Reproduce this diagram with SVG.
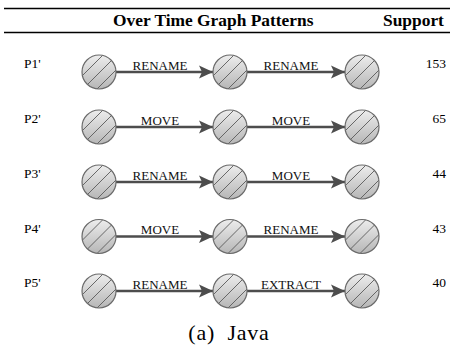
<svg xmlns="http://www.w3.org/2000/svg" xmlns:xlink="http://www.w3.org/1999/xlink" width="450" height="346" viewBox="0 0 450 346">
<style>
.hdr{font-family:"Liberation Serif","Times New Roman",serif;font-weight:bold;font-size:17.4px;fill:#000}
.lbl{font-family:"Liberation Serif","Times New Roman",serif;font-size:13.5px;fill:#000}
.num{font-family:"Liberation Serif","Times New Roman",serif;font-size:13.5px;fill:#000;text-anchor:end}
.elbl{font-family:"Liberation Serif","Times New Roman",serif;font-size:13px;fill:#111;text-anchor:middle}
.edge{stroke:#4d4d4d;stroke-width:2.5;fill:none}
.rule{stroke:#000;stroke-width:1.5}
.cap{font-family:"Liberation Serif","Times New Roman",serif;font-size:22px;fill:#000;text-anchor:middle;letter-spacing:0.8px;word-spacing:6px}
</style>
<defs>
<linearGradient id="g" x1="0" y1="0" x2="0" y2="1">
<stop offset="0" stop-color="#ededed"/>
<stop offset="1" stop-color="#b6b6b6"/>
</linearGradient>
<clipPath id="cc"><circle cx="0" cy="0" r="17"/></clipPath>
<g id="node">
<circle cx="0" cy="0" r="17" fill="url(#g)"/>
<g clip-path="url(#cc)" stroke="#5a5a5a" stroke-width="0.9">
<line x1="-30" y1="17" x2="17" y2="-30"/>
<line x1="-30" y1="31" x2="31" y2="-30"/>
<line x1="-30" y1="45" x2="45" y2="-30"/>
</g>
<circle cx="0" cy="0" r="17" fill="none" stroke="#6a6a6a" stroke-width="1.2"/>
</g>
<marker id="arr" markerUnits="userSpaceOnUse" markerWidth="15" markerHeight="15" viewBox="0 0 15 15" refX="14" refY="7.5" orient="auto">
<path d="M0,1 L14,7.5 L0,14 L3,7.5 Z" fill="#4d4d4d"/>
</marker>
</defs>
<line class="rule" x1="4" y1="8.5" x2="450" y2="8.5"/>
<line class="rule" x1="4" y1="32.5" x2="450" y2="32.5"/>
<text class="hdr" x="113" y="26">Over Time Graph Patterns</text>
<text class="hdr" x="383" y="26">Support</text>

<g id="labels">
<text class="lbl" x="24" y="68">P1'</text>
<text class="lbl" x="24" y="123">P2'</text>
<text class="lbl" x="24" y="178">P3'</text>
<text class="lbl" x="24" y="232.5">P4'</text>
<text class="lbl" x="24" y="287">P5'</text>
<text class="num" x="446" y="68">153</text>
<text class="num" x="446" y="123">65</text>
<text class="num" x="446" y="178">44</text>
<text class="num" x="446" y="232.5">43</text>
<text class="num" x="446" y="287">40</text>
</g>

<g id="connectors">
<line class="edge" x1="116" y1="72" x2="213" y2="72" marker-end="url(#arr)"/>
<line class="edge" x1="247" y1="72" x2="345" y2="72" marker-end="url(#arr)"/>
<line class="edge" x1="116" y1="127" x2="213" y2="127" marker-end="url(#arr)"/>
<line class="edge" x1="247" y1="127" x2="345" y2="127" marker-end="url(#arr)"/>
<line class="edge" x1="116" y1="182" x2="213" y2="182" marker-end="url(#arr)"/>
<line class="edge" x1="247" y1="182" x2="345" y2="182" marker-end="url(#arr)"/>
<line class="edge" x1="116" y1="236.5" x2="213" y2="236.5" marker-end="url(#arr)"/>
<line class="edge" x1="247" y1="236.5" x2="345" y2="236.5" marker-end="url(#arr)"/>
<line class="edge" x1="116" y1="291" x2="213" y2="291" marker-end="url(#arr)"/>
<line class="edge" x1="247" y1="291" x2="345" y2="291" marker-end="url(#arr)"/>
<text class="elbl" x="160" y="69.5">RENAME</text>
<text class="elbl" x="291" y="69.5">RENAME</text>
<text class="elbl" x="160" y="124.5">MOVE</text>
<text class="elbl" x="291" y="124.5">MOVE</text>
<text class="elbl" x="160" y="179.5">RENAME</text>
<text class="elbl" x="291" y="179.5">MOVE</text>
<text class="elbl" x="160" y="234">MOVE</text>
<text class="elbl" x="291" y="234">RENAME</text>
<text class="elbl" x="160" y="288.5">RENAME</text>
<text class="elbl" x="291" y="288.5">EXTRACT</text>
</g>

<g id="n1a"><use xlink:href="#node" x="99" y="72"/></g>
<g id="n1b"><use xlink:href="#node" x="230" y="72"/></g>
<g id="n1c"><use xlink:href="#node" x="362" y="72"/></g>
<g id="n2a"><use xlink:href="#node" x="99" y="127"/></g>
<g id="n2b"><use xlink:href="#node" x="230" y="127"/></g>
<g id="n2c"><use xlink:href="#node" x="362" y="127"/></g>
<g id="n3a"><use xlink:href="#node" x="99" y="182"/></g>
<g id="n3b"><use xlink:href="#node" x="230" y="182"/></g>
<g id="n3c"><use xlink:href="#node" x="362" y="182"/></g>
<g id="n4a"><use xlink:href="#node" x="99" y="236.5"/></g>
<g id="n4b"><use xlink:href="#node" x="230" y="236.5"/></g>
<g id="n4c"><use xlink:href="#node" x="362" y="236.5"/></g>
<g id="n5a"><use xlink:href="#node" x="99" y="291"/></g>
<g id="n5b"><use xlink:href="#node" x="230" y="291"/></g>
<g id="n5c"><use xlink:href="#node" x="362" y="291"/></g>

<text class="cap" x="229" y="340">(a) Java</text>
</svg>
